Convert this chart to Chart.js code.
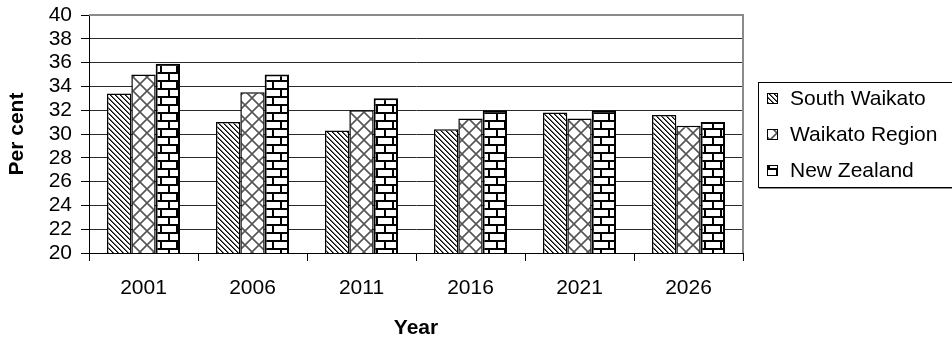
<!DOCTYPE html>
<html>
<head>
<meta charset="utf-8">
<script src="https://cdn.jsdelivr.net/npm/chart.js@4"></script>
<style>
  html, body { margin: 0; padding: 0; background: #fff; }
  #wrap { width: 952px; height: 343px; }
</style>
</head>
<body>
<div id="wrap"><canvas id="c" width="952" height="343"></canvas></div>
<script>
// Census years and share of population (per cent)
const years = ['2001', '2006', '2011', '2016', '2021', '2026'];
const southWaikato = [33.4, 31.0, 30.3, 30.4, 31.8, 31.6];
const waikatoRegion = [35.0, 33.5, 32.0, 31.3, 31.3, 30.7];
const newZealand = [35.9, 35.0, 33.0, 32.0, 32.0, 31.0];
const seriesNames = ['South Waikato', 'Waikato Region', 'New Zealand'];
const yMin = 20, yMax = 40, yStep = 2;

const FONT = '"Liberation Sans", Arial, sans-serif';

// ---- fill patterns ----
function tile(w, h, draw) {
  const cv = document.createElement('canvas');
  cv.width = w; cv.height = h;
  const g = cv.getContext('2d');
  g.fillStyle = '#fff';
  g.fillRect(0, 0, w, h);
  draw(g, w, h);
  return cv;
}
// dense down-right diagonal hatch
const hatchTile = tile(5, 5, (g) => {
  for (let i = 0; i < 5; i++) {
    g.fillStyle = '#000';
    g.fillRect(i, i, 1, 1);
    g.fillStyle = '#666';
    g.fillRect((i + 1) % 5, i, 1, 1);
  }
});
// diagonal lattice (diamonds)
const latticeTile = tile(14, 14, (g, w, h) => {
  g.strokeStyle = '#555';
  g.lineWidth = 1.6;
  g.beginPath();
  g.moveTo(0, 0); g.lineTo(w, h);
  g.moveTo(w, 0); g.lineTo(0, h);
  g.stroke();
});
// brick courses
const brickTile = tile(16, 16, (g) => {
  g.fillStyle = '#000';
  g.fillRect(0, 0, 16, 2);
  g.fillRect(0, 8, 16, 2);
  g.fillRect(0, 0, 2, 8);
  g.fillRect(8, 8, 2, 8);
});

const ctx = document.getElementById('c').getContext('2d');
const patterns = [
  ctx.createPattern(hatchTile, 'repeat'),
  ctx.createPattern(latticeTile, 'repeat'),
  ctx.createPattern(brickTile, 'repeat')
];

// gray frame on top and right of the plot area
const frame = {
  id: 'frame',
  afterDatasetsDraw(chart) {
    const a = chart.chartArea;
    const g = chart.ctx;
    g.save();
    g.strokeStyle = '#8a8a8a';
    g.lineWidth = 2;
    g.beginPath();
    g.moveTo(a.left, a.top);
    g.lineTo(a.right, a.top);
    g.lineTo(a.right, a.bottom);
    g.stroke();
    g.restore();
  }
};

// boxed legend at the right
const boxLegend = {
  id: 'boxLegend',
  afterDraw(chart) {
    const g = chart.ctx;
    const x0 = 758, y0 = 82, y1 = 187;
    g.save();
    g.fillStyle = '#fff';
    g.fillRect(x0, y0, 960 - x0, y1 - y0);
    g.strokeStyle = '#000';
    g.lineWidth = 1;
    g.strokeRect(x0 + 0.5, y0 + 0.5, 960 - x0, y1 - y0);
    g.strokeStyle = '#888';
    g.beginPath();
    g.moveTo(x0 + 1, y1 + 1.5); g.lineTo(952, y1 + 1.5);
    g.stroke();
    const rows = [98, 134, 170];
    chart.data.datasets.forEach((ds, i) => {
      const cy = rows[i];
      g.fillStyle = ds.backgroundColor;
      g.fillRect(767, cy - 5, 10, 10);
      g.strokeStyle = '#000';
      g.lineWidth = 1;
      g.strokeRect(767.5, cy - 4.5, 10, 10);
      g.fillStyle = '#000';
      g.font = '21px ' + FONT;
      g.textBaseline = 'middle';
      g.textAlign = 'left';
      g.fillText(ds.label, 790, cy + 1);
    });
    g.restore();
  }
};

const datasets = [southWaikato, waikatoRegion, newZealand].map((vals, i) => ({
  label: seriesNames[i],
  data: vals,
  backgroundColor: patterns[i],
  borderColor: '#000',
  borderWidth: i === 2 ? 2 : 1.5,
  borderSkipped: 'bottom',
  barPercentage: 1.0,
  categoryPercentage: 0.67
}));

new Chart(ctx, {
  type: 'bar',
  data: { labels: years, datasets },
  options: {
    responsive: false,
    animation: false,
    devicePixelRatio: 1,
    layout: { padding: { top: 15, right: 209, left: 0, bottom: 0 } },
    plugins: {
      legend: { display: false },
      tooltip: { enabled: false }
    },
    scales: {
      x: {
        grid: {
          offset: true,
          drawOnChartArea: false,
          tickLength: 8,
          color: '#000',
          tickColor: '#000'
        },
        border: { color: '#000', width: 1 },
        ticks: {
          color: '#000',
          font: { family: FONT, size: 21 },
          padding: 15,
          maxRotation: 0
        },
        title: {
          display: true,
          text: 'Year',
          color: '#000',
          font: { family: FONT, size: 21, weight: 'bold' },
          padding: { top: 0, bottom: 2 }
        },
        afterFit(s) { s.height = 90; s.paddingLeft = 0; s.paddingRight = 0; }
      },
      y: {
        min: yMin,
        max: yMax,
        grid: {
          color: '#2a2a2a',
          tickColor: '#000',
          tickLength: 8,
          lineWidth: 1
        },
        border: { color: '#000', width: 1 },
        ticks: {
          stepSize: yStep,
          autoSkip: false,
          color: '#000',
          font: { family: FONT, size: 21 },
          padding: 9
        },
        title: {
          display: true,
          text: 'Per cent',
          color: '#000',
          font: { family: FONT, size: 21, weight: 'bold' },
          padding: { top: 5, bottom: 0 }
        },
        afterFit(s) { s.width = 89; s.paddingTop = 0; s.paddingBottom = 0; }
      }
    }
  },
  plugins: [frame, boxLegend]
});
</script>
</body>
</html>
